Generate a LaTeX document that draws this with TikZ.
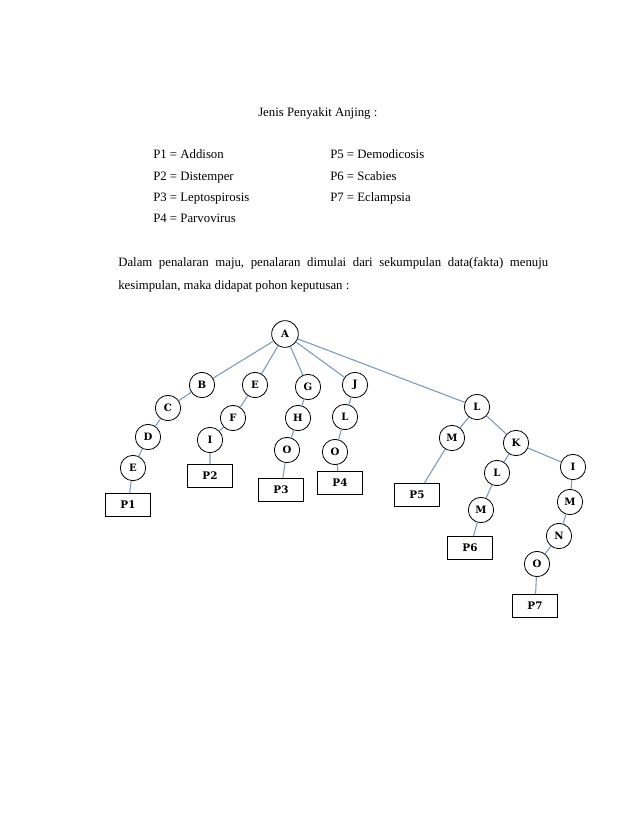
\documentclass[tikz,border=0pt]{standalone}
\usepackage{fontspec}
\setmainfont{Liberation Serif}
\newfontfamily\nodefont{DejaVu Serif}
\definecolor{edgec}{RGB}{123,154,190}
\begin{document}
\begin{tikzpicture}[x=0.75pt,y=-0.75pt,
  circ/.style={circle,draw=black,line width=0.6pt,fill=white,minimum size=19pt,inner sep=0pt,font=\nodefont\bfseries\fontsize{7.6}{8}\selectfont},
  leaf/.style={rectangle,draw=black,line width=0.6pt,fill=white,minimum width=33.75pt,minimum height=17.25pt,inner sep=0pt,font=\nodefont\bfseries\fontsize{7.8}{8}\selectfont},
  txt/.style={anchor=base west,inner sep=0pt,font=\fontsize{9.6}{11}\selectfont},
  link/.style={draw=edgec,line width=0.8pt}]
\useasboundingbox (0,0) rectangle (638,826);
\fill[white] (0,0) rectangle (638,826);
% texts
\node[txt] (title) at (258,116) {Jenis Penyakit Anjing :};
\node[txt] (p1) at (153,158) {P1 = Addison};
\node[txt] (p2) at (153,180) {P2 = Distemper};
\node[txt] (p3) at (153,201) {P3 = Leptospirosis};
\node[txt] (p4) at (153,222) {P4 = Parvovirus};
\node[txt] (p5) at (330,158) {P5 = Demodicosis};
\node[txt] (p6) at (330,180) {P6 = Scabies};
\node[txt] (p7) at (330,201) {P7 = Eclampsia};
\node[txt] (par1) at (118,266) {\hbox to 322.5pt{Dalam\hfill penalaran\hfill maju,\hfill penalaran\hfill dimulai\hfill dari\hfill sekumpulan\hfill data(fakta)\hfill menuju}};
\node[txt] (par2) at (118,289) {kesimpulan, maka didapat pohon keputusan :};
% tree nodes
\node[circ,minimum size=20pt] (A) at (285,334) {A};
\node[circ] (B) at (202,385) {B};
\node[circ] (E1) at (255,385) {E};
\node[circ] (G) at (308,387) {G};
\node[circ] (J) at (355,385) {J};
\node[circ] (C) at (168,408) {C};
\node[circ] (F) at (233,418) {F};
\node[circ] (H) at (298,418) {H};
\node[circ] (L1) at (345,417) {L};
\node[circ] (D) at (148,437) {D};
\node[circ] (I1) at (210,440) {I};
\node[circ] (O1) at (287,450) {O};
\node[circ] (O2) at (335,452) {O};
\node[circ] (E2) at (133,468) {E};
\node[leaf] (P1) at (128,505) {P1};
\node[leaf] (P2) at (210,476) {P2};
\node[leaf] (P3) at (281,490) {P3};
\node[leaf] (P4) at (340,483) {P4};
\node[circ] (L2) at (477,407) {L};
\node[circ] (M1) at (452,438) {M};
\node[circ] (K) at (516,443) {K};
\node[circ] (L3) at (497,473) {L};
\node[circ] (I2) at (573,467) {I};
\node[circ] (M2) at (481,510) {M};
\node[circ] (M3) at (570,502) {M};
\node[circ] (N) at (559,536) {N};
\node[circ] (O3) at (537,564) {O};
\node[leaf] (P5) at (417,495) {P5};
\node[leaf] (P6) at (470,548) {P6};
\node[leaf] (P7) at (535,606) {P7};
% edges
\path[link] (A) -- (B) (A) -- (E1) (A) -- (G) (A) -- (J) (A) -- (L2)
  (B) -- (C) (C) -- (D) (D) -- (E2) (E2) -- (P1)
  (E1) -- (F) (F) -- (I1) (I1) -- (P2)
  (G) -- (H) (H) -- (O1) (O1) -- (P3)
  (J) -- (L1) (L1) -- (O2) (O2) -- (P4)
  (L2) -- (M1) (M1) -- (P5) (L2) -- (K)
  (K) -- (L3) (L3) -- (M2) (M2) -- (P6)
  (K) -- (I2) (I2) -- (M3) (M3) -- (N) (N) -- (O3) (O3) -- (P7);
\end{tikzpicture}
\end{document}
